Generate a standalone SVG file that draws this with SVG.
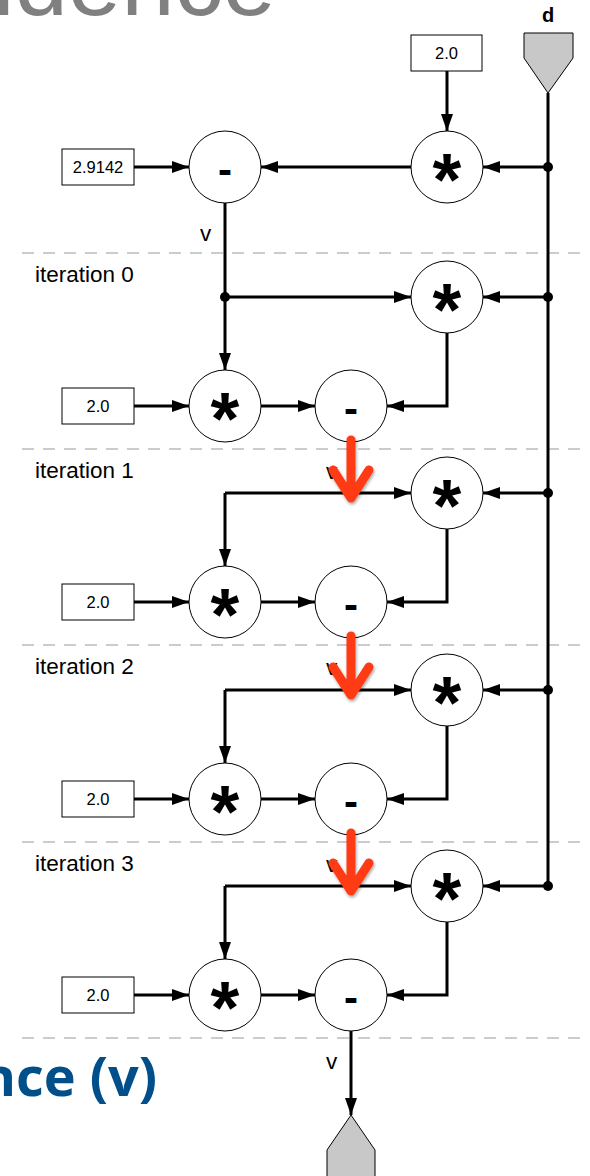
<svg xmlns="http://www.w3.org/2000/svg" width="590" height="1176" viewBox="0 0 590 1176">
<defs>
<marker id="ah" markerUnits="userSpaceOnUse" markerWidth="18" markerHeight="14" refX="17" refY="6" orient="auto"><path d="M0,0 L17,6 L0,12 z" fill="#000"/></marker>
<filter id="sh" x="-50%" y="-50%" width="200%" height="200%"><feDropShadow dx="1" dy="2" stdDeviation="1.5" flood-color="#000" flood-opacity="0.35"/></filter>
</defs>
<style>
.w{fill:none;stroke:#000;stroke-width:3}
.a{marker-end:url(#ah)}
.c{fill:#fff;stroke:#000;stroke-width:1}
.b{fill:#fff;stroke:#000;stroke-width:1}
.bt{font-family:"Liberation Sans",Arial,sans-serif;font-size:16.5px;text-anchor:middle;fill:#000}
.op{font-family:"Liberation Sans",Arial,sans-serif;font-size:74px;font-weight:bold;text-anchor:middle;fill:#000}
.mn{font-family:"Liberation Sans",Arial,sans-serif;font-size:42px;font-weight:bold;text-anchor:middle;fill:#000}
.lb{font-family:"Liberation Sans",Arial,sans-serif;font-size:22.5px;fill:#000}
.dash{stroke:#999;stroke-width:1.2;stroke-dasharray:12 9;fill:none}
.dot{fill:#000}
.red{stroke:#ff3a12;fill:none;stroke-width:9;stroke-linecap:round;stroke-linejoin:round}
.io{fill:#c8c8c8;stroke:#000;stroke-width:1}
</style>
<text x="276" y="15" font-family="Liberation Sans,Arial,sans-serif" font-size="96" fill="#808080" text-anchor="end">Dependence</text>
<text x="157" y="1096" font-family="Open Sans,Noto Sans,sans-serif" font-size="54" font-weight="bold" fill="#004f8b" text-anchor="end">Dependence (v)</text>
<g id="dashes">
<line class="dash" x1="22" y1="253" x2="580" y2="253"/>
<line class="dash" x1="22" y1="449" x2="580" y2="449"/>
<line class="dash" x1="22" y1="645" x2="580" y2="645"/>
<line class="dash" x1="22" y1="842" x2="580" y2="842"/>
<line class="dash" x1="22" y1="1038" x2="580" y2="1038"/>
</g>
<g id="labels">
<text class="lb" x="35" y="282">iteration 0</text>
<text class="lb" x="35" y="478">iteration 1</text>
<text class="lb" x="35" y="674">iteration 2</text>
<text class="lb" x="35" y="871">iteration 3</text>
<text class="lb" x="200" y="241">v</text>
<text class="lb" x="326" y="479">v</text>
<text class="lb" x="326" y="675">v</text>
<text class="lb" x="326" y="872">v</text>
<text class="lb" x="326" y="1069">v</text>
<text x="548" y="22" font-family="Liberation Sans,Arial,sans-serif" font-size="20" font-weight="bold" text-anchor="middle">d</text>
</g>
<g id="connectors">
<line class="w" x1="548" y1="93" x2="548" y2="886"/>
<line class="w a" x1="447" y1="71" x2="447" y2="131"/>
<line class="w a" x1="134" y1="167" x2="189" y2="167"/>
<line class="w a" x1="411" y1="167" x2="261" y2="167"/>
<line class="w a" x1="548" y1="167" x2="483" y2="167"/>
<line class="w a" x1="225" y1="203" x2="225" y2="370"/>
<line class="w a" x1="225" y1="297" x2="411" y2="297"/>
<line class="w a" x1="548" y1="297" x2="483" y2="297"/>
<line class="w a" x1="134" y1="406" x2="189" y2="406"/>
<line class="w a" x1="261" y1="406" x2="315" y2="406"/>
<polyline class="w a" points="447,333 447,406 387,406"/>
<line class="w" x1="351" y1="442" x2="351" y2="493"/>
<line class="w a" x1="225" y1="493" x2="411" y2="493"/>
<polyline class="w a" points="225,493 225,566"/>
<line class="w a" x1="548" y1="493" x2="483" y2="493"/>
<line class="w a" x1="134" y1="602" x2="189" y2="602"/>
<line class="w a" x1="261" y1="602" x2="315" y2="602"/>
<polyline class="w a" points="447,529 447,602 387,602"/>
<line class="w" x1="351" y1="638" x2="351" y2="690"/>
<line class="w a" x1="225" y1="690" x2="411" y2="690"/>
<polyline class="w a" points="225,690 225,763"/>
<line class="w a" x1="548" y1="690" x2="483" y2="690"/>
<line class="w a" x1="134" y1="799" x2="189" y2="799"/>
<line class="w a" x1="261" y1="799" x2="315" y2="799"/>
<polyline class="w a" points="447,726 447,799 387,799"/>
<line class="w" x1="351" y1="835" x2="351" y2="886"/>
<line class="w a" x1="225" y1="886" x2="411" y2="886"/>
<polyline class="w a" points="225,886 225,959"/>
<line class="w a" x1="548" y1="886" x2="483" y2="886"/>
<line class="w a" x1="134" y1="995" x2="189" y2="995"/>
<line class="w a" x1="261" y1="995" x2="315" y2="995"/>
<polyline class="w a" points="447,922 447,995 387,995"/>
<line class="w a" x1="351" y1="1031" x2="351" y2="1115"/>
<circle class="dot" cx="548" cy="167" r="5"/>
<circle class="dot" cx="548" cy="297" r="5"/>
<circle class="dot" cx="548" cy="493" r="5"/>
<circle class="dot" cx="548" cy="690" r="5"/>
<circle class="dot" cx="548" cy="886" r="5"/>
<circle class="dot" cx="225" cy="297" r="5"/>
<circle class="dot" cx="351" cy="493" r="5"/>
<circle class="dot" cx="351" cy="690" r="5"/>
<circle class="dot" cx="351" cy="886" r="5"/>
</g>
<g id="input-d"><path class="io" d="M524,33 L573,33 L573,58 L548,93 L524,58 Z"/></g>
<g id="output-v"><path class="io" d="M351,1115 L375,1150 L375,1177 L327,1177 L327,1150 Z"/></g>
<g id="c-top"><rect class="b" x="411" y="35" width="71" height="36"/><text class="bt" x="446.5" y="59">2.0</text></g>
<g id="c-29142"><rect class="b" x="62" y="149" width="72" height="36"/><text class="bt" x="98" y="173">2.9142</text></g>
<g id="mul-top"><circle class="c" cx="447" cy="167" r="36"/><text class="op" x="447" y="205">*</text></g>
<g id="sub-top"><circle class="c" cx="225" cy="167" r="36"/><text class="mn" x="225" y="184">-</text></g>
<g id="it0-mulr"><circle class="c" cx="447" cy="297" r="36"/><text class="op" x="447" y="335">*</text></g>
<g id="it0-c"><rect class="b" x="62" y="388" width="72" height="36"/><text class="bt" x="98" y="412">2.0</text></g>
<g id="it0-mul"><circle class="c" cx="225" cy="406" r="36"/><text class="op" x="225" y="444">*</text></g>
<g id="it0-sub"><circle class="c" cx="351" cy="406" r="36"/><text class="mn" x="351" y="423">-</text></g>
<g id="it1-mulr"><circle class="c" cx="447" cy="493" r="36"/><text class="op" x="447" y="531">*</text></g>
<g id="it1-c"><rect class="b" x="62" y="584" width="72" height="36"/><text class="bt" x="98" y="608">2.0</text></g>
<g id="it1-mul"><circle class="c" cx="225" cy="602" r="36"/><text class="op" x="225" y="640">*</text></g>
<g id="it1-sub"><circle class="c" cx="351" cy="602" r="36"/><text class="mn" x="351" y="619">-</text></g>
<g id="it2-mulr"><circle class="c" cx="447" cy="690" r="36"/><text class="op" x="447" y="728">*</text></g>
<g id="it2-c"><rect class="b" x="62" y="781" width="72" height="36"/><text class="bt" x="98" y="805">2.0</text></g>
<g id="it2-mul"><circle class="c" cx="225" cy="799" r="36"/><text class="op" x="225" y="837">*</text></g>
<g id="it2-sub"><circle class="c" cx="351" cy="799" r="36"/><text class="mn" x="351" y="816">-</text></g>
<g id="it3-mulr"><circle class="c" cx="447" cy="886" r="36"/><text class="op" x="447" y="924">*</text></g>
<g id="it3-c"><rect class="b" x="62" y="977" width="72" height="36"/><text class="bt" x="98" y="1001">2.0</text></g>
<g id="it3-mul"><circle class="c" cx="225" cy="995" r="36"/><text class="op" x="225" y="1033">*</text></g>
<g id="it3-sub"><circle class="c" cx="351" cy="995" r="36"/><text class="mn" x="351" y="1012">-</text></g>
<g id="red-arrows" filter="url(#sh)">
<path class="red" d="M351,440 L351,498 M333,470 L351,498 L369,470"/>
<path class="red" d="M351,636 L351,695 M333,667 L351,695 L369,667"/>
<path class="red" d="M351,833 L351,891 M333,863 L351,891 L369,863"/>
</g>
</svg>
